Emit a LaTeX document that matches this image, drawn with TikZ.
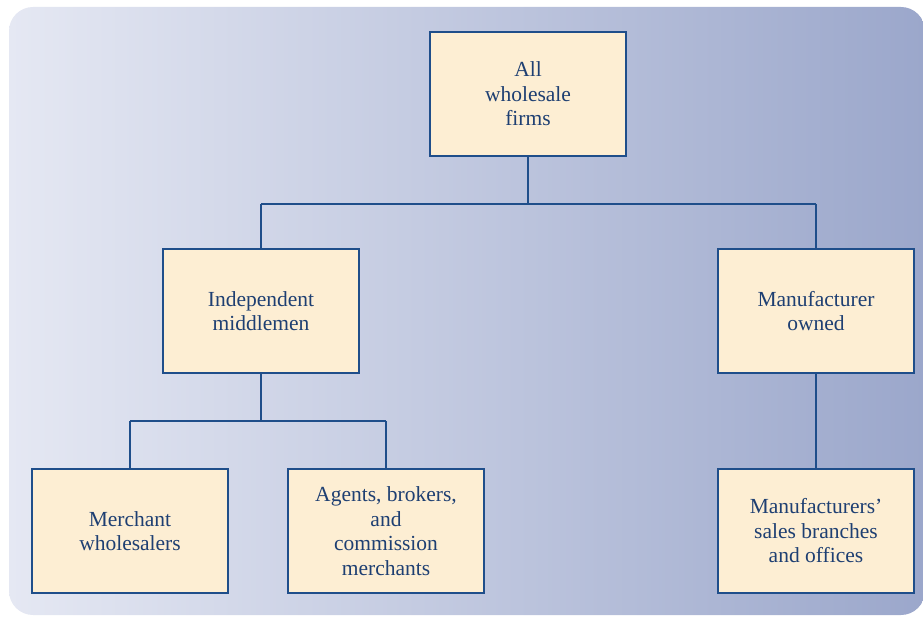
\documentclass[tikz,border=0pt]{standalone}
\usepackage{fontspec}
\setmainfont{Liberation Serif}
\usetikzlibrary{positioning}
\definecolor{boxfill}{HTML}{FDEED3}
\definecolor{boxline}{HTML}{1F4E8A}
\definecolor{boxtext}{HTML}{1E3F72}
\definecolor{bgleft}{HTML}{E5E8F3}
\definecolor{bgright}{HTML}{9BA7CB}
\tikzset{
  firm/.style={draw=boxline, fill=boxfill, line width=1.3pt, minimum width=196pt, minimum height=124pt,
    align=center, text=boxtext, font=\fontsize{21.5}{24.5}\selectfont},
  link/.style={draw=boxline, line width=1.5pt}
}
\begin{document}
\begin{tikzpicture}[x=1pt, y=-1pt]
\useasboundingbox (0,0) rectangle (923,617);
\shade[left color=bgleft, right color=bgright, rounded corners=24pt] (9,7) rectangle (925,615);
\node[firm] (all) at (528,94) {All\\wholesale\\firms};
\node[firm] (indep) at (261,311) {Independent\\middlemen};
\node[firm] (mfown) at (816,311) {Manufacturer\\owned};
\node[firm] (merch) at (130,531) {Merchant\\wholesalers};
\node[firm] (agents) at (386,531) {Agents, brokers,\\and\\commission\\merchants};
\node[firm] (branch) at (816,531) {Manufacturers'\\sales branches\\and offices};
\coordinate (split1) at (528,204);
\coordinate (split2) at (261,421);
\draw[link] (all) -- (split1);
\draw[link] (indep.north |- split1) -- (mfown.north |- split1);
\draw[link] (indep.north |- split1) -- (indep);
\draw[link] (mfown.north |- split1) -- (mfown);
\draw[link] (indep) -- (split2);
\draw[link] (merch.north |- split2) -- (agents.north |- split2);
\draw[link] (merch.north |- split2) -- (merch);
\draw[link] (agents.north |- split2) -- (agents);
\draw[link] (mfown) -- (branch);
\end{tikzpicture}
\end{document}
